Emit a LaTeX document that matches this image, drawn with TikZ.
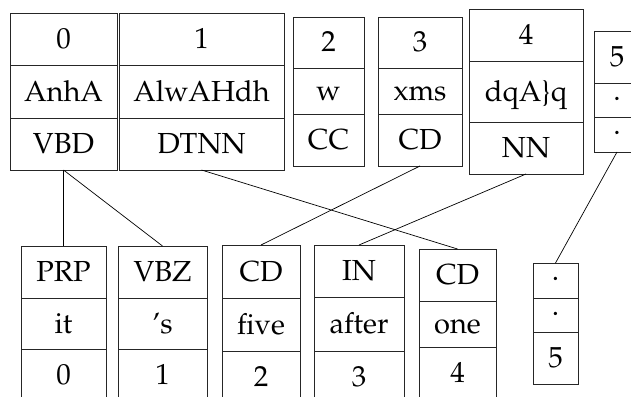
\documentclass[tikz,border=0pt]{standalone}
\usepackage[T1]{fontenc}
\usepackage{mathpazo}
\tikzset{
  cell/.style={draw=black!85,line width=0.8pt,inner sep=0pt,outer sep=0pt,anchor=center,
    font=\fontsize{29}{33}\selectfont,text height=19pt,text depth=0pt},
  dotcell/.style={cell,text height=0pt},
  link/.style={draw=black,line width=0.7pt}
}
\newcommand\mycell[7][]{\node[cell,#1,minimum width={(#5-#3)*1pt},minimum height={(#6-#4)*1pt}] (#2) at ({(#3+#5)/2},{(#4+#6)/2}) {#7};}
\begin{document}
\begin{tikzpicture}[x=1pt,y=-1pt]
\useasboundingbox (0,0) rectangle (631,396);
\clip (0,0) rectangle (631,396);
% top row
\mycell{a1}{10}{13}{117}{65}{0}
\mycell{a2}{10}{65}{117}{118}{AnhA}
\mycell{a3}{10}{118}{117}{170}{VBD}
\mycell{b1}{119}{13}{284}{65}{1}
\mycell{b2}{119}{65}{284}{118}{AlwAHdh}
\mycell{b3}{119}{118}{284}{170}{DTNN}
\mycell{c1}{293}{17}{364}{68}{2}
\mycell{c2}{293}{68}{364}{114}{w}
\mycell{c3}{293}{114}{364}{166}{CC}
\mycell{d1}{378}{17}{462}{68}{3}
\mycell{d2}{378}{68}{462}{114}{xms}
\mycell{d3}{378}{114}{462}{166}{CD}
\mycell{e1}{469}{9}{583}{61}{4}
\mycell{e2}{469}{61}{583}{122}{dqA\}q}
\mycell{e3}{469}{122}{583}{174}{NN}
\mycell{f1}{594}{31}{640}{83}{5}
\mycell[dotcell]{f2}{594}{83}{640}{117}{.}
\mycell[dotcell]{f3}{594}{117}{640}{152}{.}
% bottom row
\mycell{p1}{21}{246}{106}{298}{PRP}
\mycell{p2}{21}{298}{106}{349}{it}
\mycell{p3}{21}{349}{106}{400}{0}
\mycell{q1}{118}{246}{207}{298}{VBZ}
\mycell{q2}{118}{298}{207}{349}{{'}s}
\mycell{q3}{118}{349}{207}{400}{1}
\mycell{r1}{222}{245}{300}{298}{CD}
\mycell{r2}{222}{298}{300}{351}{five}
\mycell{r3}{222}{351}{300}{403}{2}
\mycell{s1}{314}{245}{404}{297}{IN}
\mycell{s2}{314}{297}{404}{351}{after}
\mycell{s3}{314}{351}{404}{403}{3}
\mycell{t1}{419}{249}{496}{301}{CD}
\mycell{t2}{419}{301}{496}{347}{one}
\mycell{t3}{419}{347}{496}{399}{4}
\mycell[dotcell]{u1}{533}{263}{578}{298}{.}
\mycell[dotcell]{u2}{533}{298}{578}{332}{.}
\mycell{u3}{533}{332}{578}{384}{5}
% links
\draw[link] (a3.south) -- (p1.north);
\draw[link] (a3.south) -- (q1.north);
\draw[link] (b3.south) -- (t1.north);
\draw[link] (d3.south) -- (r1.north);
\draw[link] (e3.south) -- (s1.north);
\draw[link] (f3.south) -- (u1.north);
\end{tikzpicture}
\end{document}
